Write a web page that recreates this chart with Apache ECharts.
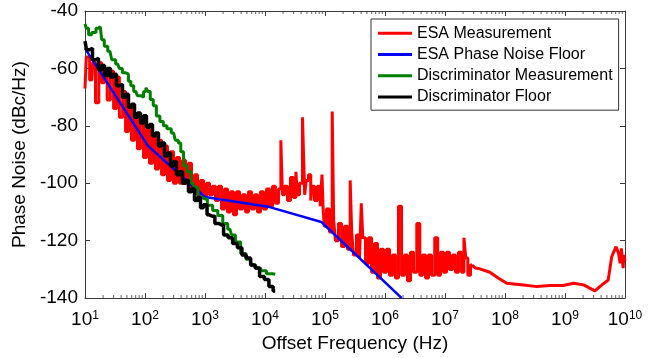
<!DOCTYPE html>
<html>
<head>
<meta charset="utf-8">
<script src="https://cdn.jsdelivr.net/npm/echarts@6/dist/echarts.min.js"></script>
<style>
  html, body { margin: 0; padding: 0; background: #fff; }
  #chart { width: 663px; height: 358px; }
</style>
</head>
<body>
<div id="chart"></div>
<script>
// x: offset frequency (Hz), y: phase noise (dBc/Hz)
var seriesNames = ['ESA Measurement', 'ESA Phase Noise Floor', 'Discriminator Measurement', 'Discriminator Floor'];
var minorSteps = [2, 3, 4, 5, 6, 7, 8, 9];

// ESA Measurement (red), noisy part up to ~3e7 Hz
var esaMeas = [
  [10,-67],[11,-56],[13,-64],[14,-58],[16,-72],[18,-58],[20,-65],[22,-60],[25,-71],[28,-61],
  [32,-74],[35,-63],[40,-77],[45,-68],[50,-82],[56,-73],[63,-85],[71,-76],[79,-88],[89,-79],
  [100,-91],[112,-81],[126,-93],[141,-83],[158,-95],[178,-85],[200,-97],[224,-87],[251,-99],[282,-89],
  [316,-100],[355,-91],[398,-100],[447,-92],[501,-100],[562,-93],[631,-102],[708,-97],[794,-104],[891,-99],
  [1000,-105],[1120,-100],[1260,-104],[1410,-101],[1580,-106],[1780,-101],[2000,-109],[2240,-102],[2510,-110],[2820,-103],
  [3160,-111],[3550,-103],[3980,-109],[4470,-104],[5010,-110],[5620,-103],[6310,-109],[7080,-104],[7940,-110],[8910,-103],
  [10000,-109],[11200,-102],[12600,-108],[14100,-101],[15800,-107],[17800,-102],[19000,-85],[20000,-104],[22400,-101],[25100,-106],
  [28200,-98],[31600,-105],[33900,-96],[35500,-104],[39800,-100],[44700,-77],[47000,-104],[50100,-99],[56200,-97],[59600,-106],
  [63100,-101],[70800,-106],[79400,-101],[87000,-108],[91200,-97],[95000,-109],
  [100000,-115],[112000,-109],[126000,-117],[138000,-75],[141000,-113],[158000,-120],[178000,-114],[200000,-122],[224000,-115],[251000,-123],
  [275000,-99],[282000,-117],[316000,-125],[355000,-118],[398000,-126],[407000,-107],[447000,-119],[501000,-128],[562000,-119],[631000,-131],
  [708000,-121],[794000,-133],[891000,-123],
  [1000000,-131],[1120000,-123],[1260000,-132],[1410000,-125],[1580000,-133],[1780000,-108],[2000000,-132],[2240000,-125],[2510000,-134],[2820000,-124],
  [3160000,-131],[3630000,-114],[3980000,-132],[4470000,-125],[5010000,-133],[5620000,-125],[6310000,-132],[7200000,-119],[7940000,-132],[8910000,-124],
  [1.0e7,-131],[1.12e7,-124],[1.26e7,-130],[1.41e7,-125],[1.58e7,-131],[1.78e7,-124],[2.0e7,-131],[2.14e7,-119],[2.3e7,-126],[2.51e7,-132],
  [2.82e7,-128.5]
];
// ESA Measurement (red), smooth tail
var esaMeasTail = [
  [2.82e7,-128.5],[3.2e7,-129.5],[3.8e7,-129.8],[5.6e7,-131],[7.8e7,-133.1],[1.07e8,-134.8],[2.04e8,-135.4],[3.4e8,-136],[5.6e8,-135.6],[9.3e8,-135.6],
  [1.38e9,-134.8],[2.04e9,-135.4],[3.16e9,-137.5],[3.8e9,-136],[5.25e9,-133.7],[6.0e9,-125.6],[7.1e9,-122.1],[7.8e9,-124.4],[8.3e9,-127.9],[8.7e9,-122.7],
  [9.3e9,-129.6],[9.6e9,-125],[1.0e10,-127]
];

// ESA Phase Noise Floor (blue)
var esaFloor = [[10,-53],[112,-87],[1000,-104.8],[12000,-108.3],[87000,-113.5],[1.9e6,-140]];

// Discriminator Measurement (green)
var discMeas = [
  [10,-44.5],[11,-46],[12,-48.3],[14,-47.5],[16.6,-46],[18,-45.5],[20,-50],[22,-52.3],[26,-54],[30,-57],
  [35,-58.5],[40,-60],[44,-61.5],[50,-62],[56,-64.5],[60,-66],[70,-68],[80,-69.5],[90,-70],[100,-68],
  [107,-66.7],[115,-68],[130,-70.8],[145,-73],[165,-76.6],[190,-78.5],[215,-80],[250,-81],[300,-82.5],[340,-85],
  [380,-86],[410,-89],[470,-93.9],[540,-96],[630,-100],[700,-101.5],[830,-105],[1000,-105.5],[1200,-107.7],[1500,-109.5],
  [1780,-111.2],[2200,-114],[2600,-116],[2950,-118],[3500,-120.5],[4400,-124.5],[5300,-126.5],[6300,-128.5],[7700,-129.5],[9300,-130.5],
  [12000,-131.5],[14800,-131.7]
];

// Discriminator Floor (black)
var discFloor = [
  [10,-50.5],[11.2,-53.5],[12.6,-53],[14.1,-57],[15.8,-56.5],[17.8,-60.5],[20,-59],[22.4,-62.5],[25.1,-60],[28.2,-63],
  [31.6,-62],[35.5,-66],[39.8,-65.5],[44.7,-70],[50.1,-69],[56.2,-73.5],[63.1,-72.5],[70.8,-77],[79.4,-75.5],[89.1,-79],
  [100,-76.5],[112,-80.5],[126,-79.5],[141,-83.5],[158,-82.5],[178,-87],[200,-86],[224,-90.5],[251,-89.5],[282,-94],
  [316,-92.5],[355,-97],[398,-96],[447,-100],[501,-99],[562,-103],[631,-102],[708,-106],[794,-105],[891,-108.5],
  [1000,-107.5],[1170,-111],[1350,-111.5],[1580,-114],[1860,-114.5],[2240,-118],[2630,-119],[3160,-121],[3800,-122.5],[4470,-125],
  [5250,-126],[6310,-128.5],[7410,-129.5],[8910,-132.5],[10700,-133.5],[12600,-136],[14800,-137.5]
];

var FONT = 'Liberation Sans';
var AXIS_COLOR = '#3a3a3a';

var myChart = echarts.init(document.getElementById('chart'), null, {renderer: 'canvas'});

function xLabel(v) {
    var n = Math.round(Math.log10(v));
    return '{b|10}{s|' + n + '}';
}

// minor ticks of the log axis, 2..9 in every decade, bottom and top edge
var minorTickData = [];
for (var d = 1; d < 10; d++) {
    minorSteps.forEach(function (k) {
        var f = k * Math.pow(10, d);
        minorTickData.push({value: [f, -140], symbolOffset: [0, -1.5]});
        minorTickData.push({value: [f, -40], symbolOffset: [0, 1.5]});
    });
}

var xAxisBase = {
    type: 'log',
    logBase: 10,
    min: 10,
    max: 1e10,
    splitLine: {show: false},
    axisLine: {lineStyle: {color: AXIS_COLOR, width: 1}},
    axisTick: {inside: true, length: 5, lineStyle: {color: AXIS_COLOR}}
};

var yAxisBase = {
    type: 'value',
    min: -140,
    max: -40,
    interval: 20,
    splitLine: {show: false},
    axisLine: {show: true, lineStyle: {color: AXIS_COLOR, width: 1}},
    axisTick: {show: true, inside: true, length: 5, lineStyle: {color: AXIS_COLOR}}
};

var option = {
    backgroundColor: '#fff',
    animation: false,
    grid: {left: 85, top: 11, right: 38, bottom: 58},
    legend: {
        orient: 'vertical',
        left: 371,
        top: 19,
        backgroundColor: '#fff',
        borderColor: '#333',
        borderWidth: 1,
        padding: [6, 6, 5, 7],
        itemGap: 5,
        itemWidth: 34,
        itemHeight: 3,
        icon: 'rect',
        textStyle: {fontFamily: FONT, fontSize: 16, color: '#000', lineHeight: 16.3},
        data: seriesNames
    },
    xAxis: [
        Object.assign({}, xAxisBase, {
            position: 'bottom',
            name: 'Offset Frequency (Hz)',
            nameLocation: 'middle',
            nameGap: 33,
            nameTextStyle: {fontFamily: FONT, fontSize: 19, color: '#000'},
            axisLabel: {
                margin: 12,
                formatter: xLabel,
                rich: {
                    b: {fontFamily: FONT, fontSize: 19, color: '#000'},
                    s: {fontFamily: FONT, fontSize: 12, color: '#000', verticalAlign: 'top'}
                }
            }
        }),
        Object.assign({}, xAxisBase, {position: 'top', axisLabel: {show: false}})
    ],
    yAxis: [
        Object.assign({}, yAxisBase, {
            position: 'left',
            name: 'Phase Noise (dBc/Hz)',
            nameLocation: 'middle',
            nameGap: 43,
            nameTextStyle: {fontFamily: FONT, fontSize: 19, color: '#000'},
            axisLabel: {margin: 7, fontFamily: FONT, fontSize: 19, color: '#000'}
        }),
        Object.assign({}, yAxisBase, {position: 'right', axisLabel: {show: false}})
    ],
    series: [
        {name: seriesNames[0], type: 'line', data: esaMeas, step: 'middle', symbol: 'none', color: '#ff0000', lineStyle: {width: 3, color: '#ff0000'}},
        {name: seriesNames[0], type: 'line', data: esaMeasTail, symbol: 'none', color: '#ff0000', lineStyle: {width: 3, color: '#ff0000'}},
        {name: seriesNames[1], type: 'line', data: esaFloor, symbol: 'none', color: '#0000ff', lineStyle: {width: 2.5, color: '#0000ff'}},
        {name: seriesNames[2], type: 'line', data: discMeas, step: 'middle', symbol: 'none', color: '#008000', lineStyle: {width: 3, color: '#008000'}},
        {name: seriesNames[3], type: 'line', data: discFloor, step: 'middle', symbol: 'none', color: '#000000', lineStyle: {width: 3.5, color: '#000000'}},
        {
            name: 'minorTicks', type: 'scatter', data: minorTickData, symbol: 'rect', symbolSize: [1, 3],
            itemStyle: {color: AXIS_COLOR}, silent: true, clip: false, z: 5
        }
    ]
};

myChart.setOption(option);
</script>
</body>
</html>
